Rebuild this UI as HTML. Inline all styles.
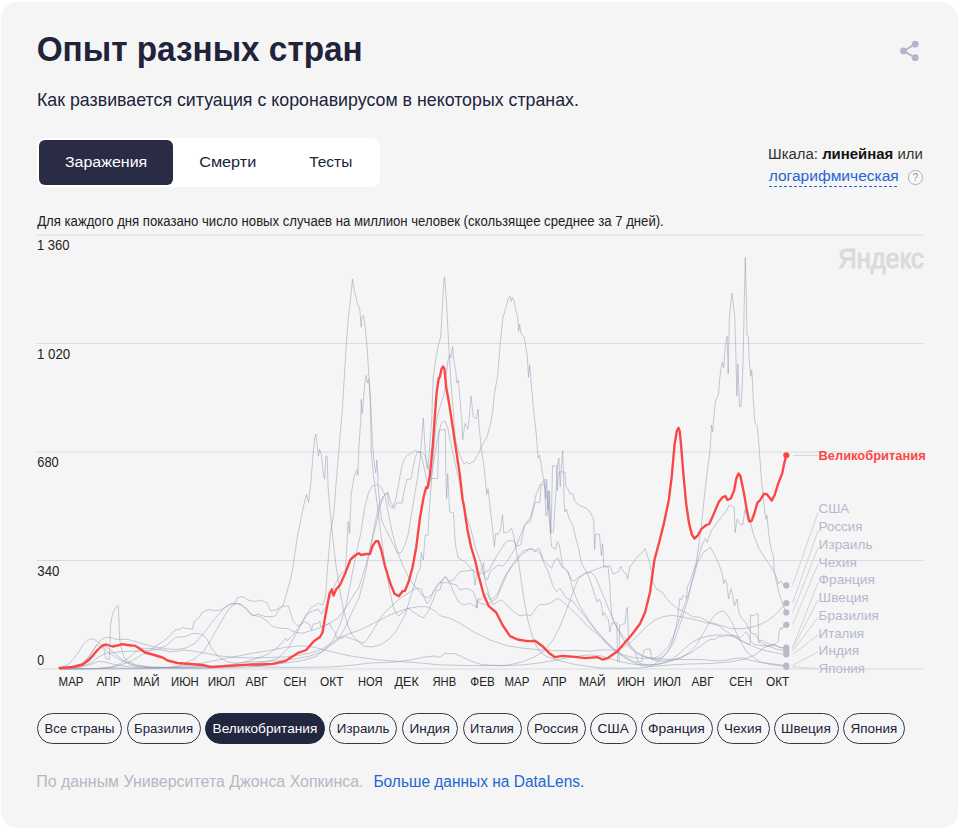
<!DOCTYPE html>
<html lang="ru"><head><meta charset="utf-8">
<style>
*{box-sizing:border-box;margin:0;padding:0}
html,body{width:961px;height:832px;background:#fff;overflow:hidden}
body{font-family:"Liberation Sans",sans-serif;color:#20233a;position:relative}
.card{position:absolute;left:1.1px;top:1.9px;width:956.7px;height:825.9px;background:#f5f5f5;border-radius:16.5px}
.abs{position:absolute}
.tabs{position:absolute;left:37.2px;top:137.9px;width:342.8px;height:49px;background:#fff;border-radius:8px}
.tabon{position:absolute;left:39px;top:139.9px;width:134px;height:45.1px;background:#2a2c46;border-radius:6px}
.pill{position:absolute;top:713px;height:30.5px;border:1px solid #34374f;border-radius:15.5px}
.pill.on{background:#23263f;border-color:#23263f}
.q{position:absolute;left:907.8px;top:169.9px;width:14.8px;height:14.8px;border:1px solid #a9adbd;border-radius:50%;background:#fafafa}
svg text{font-family:"Liberation Sans",sans-serif;white-space:pre}
</style></head><body>
<div class="card"></div>
<div class="tabs"></div><div class="tabon"></div>
<div class="q"></div>
<div class="pill" style="left:37.00px;width:85.00px"></div>
<div class="pill" style="left:126.50px;width:74.25px"></div>
<div class="pill on" style="left:205.00px;width:120.00px"></div>
<div class="pill" style="left:329.25px;width:68.00px"></div>
<div class="pill" style="left:402.00px;width:55.50px"></div>
<div class="pill" style="left:462.50px;width:59.00px"></div>
<div class="pill" style="left:526.50px;width:59.50px"></div>
<div class="pill" style="left:590.00px;width:46.50px"></div>
<div class="pill" style="left:640.50px;width:72.00px"></div>
<div class="pill" style="left:716.50px;width:53.00px"></div>
<div class="pill" style="left:773.50px;width:65.00px"></div>
<div class="pill" style="left:843.00px;width:62.00px"></div>
<svg class="abs" style="left:0;top:0" width="961" height="832" viewBox="0 0 961 832">
<g fill="#b1b6c8"><circle cx="915.2" cy="44.15" r="3.4"/><circle cx="903.5" cy="50.9" r="3.4"/><circle cx="915.2" cy="57.7" r="3.4"/></g><path d="M915.2 44.15 L903.5 50.9 L915.2 57.7" fill="none" stroke="#b1b6c8" stroke-width="1.8"/>
<g stroke="#d9dbe2" stroke-width="1">
<line x1="37" x2="923" y1="235" y2="235"/>
<line x1="37" x2="923" y1="343.5" y2="343.5"/>
<line x1="37" x2="923" y1="452" y2="452"/>
<line x1="37" x2="923" y1="560.5" y2="560.5"/>
<line x1="37" x2="923" y1="669" y2="669"/>
</g>
<text x="838.30" y="268.00" font-size="28" fill="#dadadd" textLength="85.50" lengthAdjust="spacingAndGlyphs" stroke="#dadadd" stroke-width="1.1" stroke-linejoin="round">Яндекс</text>
<g fill="none" stroke="#8f98b3" stroke-opacity="0.5" stroke-width="1" stroke-linejoin="round">
<path d="M60.0 668.8 L76.9 667.1 L84.1 663.5 L90.0 656.2 L95.8 646.0 L101.6 639.4 L106.0 637.5 L109.6 637.2 L116.2 639.4 L122.0 639.4 L127.8 639.4 L133.7 640.9 L142.4 643.8 L154.1 646.7 L165.7 648.9 L175.9 649.6 L185.0 648.3 L195.0 643.3 L205.0 631.6 L215.0 618.3 L225.0 607.5 L230.0 604.1 L235.0 603.3 L241.6 605.0 L246.6 608.3 L251.6 615.0 L259.9 616.6 L266.6 620.8 L271.6 625.8 L278.2 628.0 L288.2 628.6 L293.2 631.6 L301.5 633.3 L310.0 631.0 L321.0 627.5 L330.0 623.0 L338.0 618.0 L345.0 609.0 L352.0 598.0 L359.0 587.0 L366.0 565.0 L372.0 540.0 L376.0 525.0 L380.0 506.2 L383.8 496.5 L386.0 493.5 L387.5 492.5 L389.0 497.0 L391.0 503.0 L393.0 507.0 L396.1 498.1 L399.7 477.7 L402.1 465.7 L404.5 458.5 L407.5 455.5 L411.7 453.1 L415.3 450.0 L417.1 451.9 L419.5 451.9 L422.0 458.0 L425.0 472.0 L428.6 488.0 L431.0 478.0 L434.0 460.0 L437.0 442.0 L441.0 423.5 L444.8 420.6 L447.7 427.3 L450.6 442.7 L454.4 460.0 L458.3 477.3 L462.1 498.5 L466.9 517.7 L470.8 529.2 L475.6 548.5 L480.0 560.0 L483.6 573.3 L486.6 586.6 L490.0 598.3 L493.3 604.9 L497.4 601.6 L501.6 600.0 L506.6 604.9 L513.3 611.6 L520.0 615.8 L526.6 614.9 L530.7 615.8 L534.9 609.9 L539.9 604.1 L543.2 604.9 L549.9 603.3 L554.9 600.0 L558.2 598.3 L561.5 600.8 L566.5 604.9 L571.5 609.9 L578.2 615.8 L584.9 623.3 L589.9 628.3 L596.5 633.3 L600.0 636.6 L606.0 643.0 L612.0 648.5 L618.0 652.5 L625.0 655.5 L633.0 657.5 L641.6 658.3 L651.6 658.5 L658.3 656.6 L663.3 651.6 L668.2 646.6 L673.2 636.6 L678.2 623.3 L683.2 608.3 L688.2 595.0 L693.2 578.3 L696.5 566.6 L697.7 560.0 L701.5 546.2 L705.4 538.5 L707.3 542.3 L711.2 530.8 L716.9 523.1 L722.7 515.4 L726.5 510.6 L729.4 504.8 L734.2 507.7 L735.2 532.7 L737.1 519.2 L740.0 524.0 L742.9 525.0 L744.8 509.6 L747.7 519.2 L750.6 523.1 L753.5 534.6 L755.6 540.0 L758.9 548.4 L764.0 556.8 L769.0 563.6 L774.1 572.0 L776.6 577.0 L778.3 583.8 L780.8 581.2 L783.3 584.6 L786.2 585.5"/>
<path d="M60.0 669.0 L95.0 668.5 L110.4 667.1 L120.6 663.5 L130.8 656.2 L136.6 651.1 L142.4 648.9 L149.7 648.2 L157.0 649.2 L171.5 651.8 L185.0 650.0 L201.6 652.4 L218.3 655.7 L235.0 657.4 L251.6 657.9 L268.3 657.5 L285.0 657.0 L300.0 655.0 L310.0 653.0 L321.0 649.5 L330.0 644.0 L338.0 638.5 L348.0 634.0 L359.0 630.5 L370.0 625.0 L380.0 620.0 L390.0 615.0 L400.0 611.0 L410.0 608.0 L420.0 606.5 L428.0 607.0 L435.0 611.0 L440.0 615.8 L450.0 618.3 L460.0 623.3 L473.3 631.6 L490.0 639.9 L506.6 645.7 L523.3 648.2 L540.0 649.9 L556.6 650.7 L573.2 650.4 L589.9 651.2 L600.0 650.0 L618.3 650.0 L630.0 643.3 L638.3 634.9 L646.6 626.6 L654.9 620.0 L663.3 616.6 L671.6 615.3 L680.0 616.6 L688.2 618.3 L696.5 620.0 L704.9 622.5 L713.2 624.1 L721.5 625.8 L730.3 628.4 L740.4 628.9 L750.5 627.5 L758.9 625.0 L767.3 620.8 L774.1 615.8 L780.8 609.0 L786.2 603.1"/>
<path d="M60.0 668.8 L76.9 667.8 L88.5 662.0 L95.8 653.3 L100.2 647.4 L104.5 646.0 L108.9 648.9 L116.2 654.7 L123.5 660.6 L130.8 665.0 L139.5 667.1 L157.0 667.8 L176.0 667.1 L185.0 663.2 L195.0 658.3 L203.3 651.6 L210.0 641.6 L218.3 626.6 L225.0 615.0 L230.0 607.5 L235.0 604.1 L238.3 603.3 L241.6 605.0 L248.3 611.6 L253.3 615.8 L258.3 614.1 L264.9 616.6 L271.6 616.6 L275.7 615.8 L278.2 610.8 L283.2 605.0 L286.6 593.3 L289.0 585.0 L291.5 575.0 L292.5 570.0 L297.3 536.9 L301.2 517.7 L304.0 504.2 L306.5 494.6 L308.5 502.3 L310.8 483.1 L313.1 454.2 L314.6 438.8 L315.8 434.0 L317.5 448.5 L318.5 456.2 L319.6 449.4 L321.3 454.2 L323.3 473.5 L324.6 479.2 L325.8 456.2 L327.1 456.2 L328.1 486.9 L329.6 506.2 L331.9 529.2 L334.8 556.2 L336.7 570.0 L340.0 592.0 L344.0 612.0 L348.0 626.0 L352.0 635.0 L358.0 641.0 L363.7 646.0 L372.0 647.0 L380.0 645.0 L388.0 640.0 L395.6 632.0 L405.0 615.0 L412.7 590.0 L418.0 572.0 L420.4 568.0 L421.3 552.3 L423.3 560.0 L425.2 535.0 L428.1 535.0 L429.0 513.8 L431.0 486.9 L433.5 455.0 L436.5 420.0 L441.3 402.3 L444.2 394.6 L446.2 375.4 L448.1 360.0 L449.6 354.2 L451.0 358.1 L452.5 346.5 L453.8 360.0 L455.8 371.5 L456.9 383.1 L458.3 380.2 L459.6 394.6 L461.2 413.8 L461.9 420.0 L462.7 439.8 L465.0 423.5 L467.9 429.2 L469.5 415.0 L471.0 395.8 L473.3 416.9 L476.2 418.8 L478.1 409.2 L479.0 424.6 L481.3 448.5 L484.2 467.7 L486.7 494.6 L488.1 488.8 L490.4 510.0 L492.9 533.1 L494.4 546.5 L495.8 533.1 L497.7 535.0 L500.6 529.2 L502.5 514.8 L503.8 533.1 L507.3 532.1 L510.2 530.2 L511.5 528.3 L514.0 536.9 L516.9 554.2 L518.3 560.0 L521.6 583.3 L524.9 604.9 L528.2 621.6 L532.4 636.6 L536.6 646.6 L539.9 651.6 L546.6 656.6 L556.6 659.9 L573.2 664.1 L589.9 666.6 L600.0 667.9 L620.0 668.3 L640.0 668.0 L648.0 667.0 L653.3 664.9 L659.9 659.9 L666.6 653.3 L673.2 643.3 L678.2 629.9 L683.2 614.9 L688.2 598.3 L691.5 583.3 L694.8 570.0 L696.7 560.0 L701.5 525.0 L704.4 496.2 L707.3 471.2 L710.2 448.1 L711.5 425.0 L712.7 431.7 L714.0 415.4 L715.7 400.0 L718.5 394.6 L720.0 376.2 L722.2 362.2 L723.7 367.6 L725.4 345.9 L727.1 336.2 L728.2 374.1 L729.3 320.0 L730.8 302.7 L732.1 293.0 L733.4 304.9 L734.7 315.7 L735.8 352.4 L736.9 395.7 L737.9 364.3 L739.5 406.5 L741.0 406.5 L742.3 382.7 L743.4 348.1 L744.2 304.9 L745.3 257.3 L746.2 294.1 L747.0 335.1 L748.3 336.2 L749.2 361.1 L750.7 376.2 L751.8 369.7 L753.1 395.7 L754.6 419.9 L755.4 423.1 L757.3 426.9 L759.2 448.1 L761.2 476.9 L763.1 496.2 L765.0 513.5 L766.0 519.2 L766.9 515.4 L768.8 534.6 L770.8 548.1 L773.6 556.8 L774.1 570.3 L775.8 578.7 L778.3 590.5 L780.8 598.9 L783.3 605.7 L786.2 612.4"/>
<path d="M60.0 668.8 L80.0 667.5 L91.4 664.2 L98.7 661.3 L106.0 662.3 L116.2 664.9 L130.8 667.1 L160.0 667.5 L200.0 667.0 L230.0 666.0 L250.0 664.5 L265.0 662.0 L278.2 658.3 L288.2 648.3 L298.2 630.0 L304.9 616.6 L311.5 607.5 L318.2 603.3 L323.2 605.0 L325.7 595.0 L327.2 572.0 L330.4 533.1 L333.8 513.8 L335.8 486.9 L338.7 452.3 L340.6 429.2 L342.2 412.0 L344.4 375.4 L346.3 344.6 L348.3 317.7 L350.2 302.3 L352.5 279.2 L354.0 288.8 L356.9 301.3 L359.8 310.0 L361.2 327.3 L362.1 316.7 L363.7 315.4 L365.6 331.2 L367.5 352.3 L368.8 375.4 L370.4 398.5 L371.4 420.0 L372.6 444.0 L373.8 458.5 L375.0 468.1 L375.9 472.9 L376.8 460.3 L377.8 472.9 L378.0 484.9 L379.2 498.1 L380.4 510.1 L381.6 520.0 L383.8 525.4 L387.7 533.0 L393.5 544.6 L397.3 553.3 L401.2 552.3 L405.0 545.0 L408.0 535.0 L410.5 520.0 L414.1 498.1 L417.7 476.5 L420.1 459.7 L421.0 447.7 L422.2 432.0 L423.3 418.0 L424.5 440.0 L425.8 458.0 L427.1 468.8 L428.5 462.0 L430.0 442.0 L431.7 420.0 L433.1 379.2 L435.6 360.0 L438.5 344.6 L440.8 336.9 L442.3 308.1 L443.5 285.0 L444.4 276.9 L445.6 288.8 L447.1 313.8 L448.5 340.8 L449.6 360.0 L451.0 383.1 L452.9 406.2 L455.4 438.8 L459.2 454.2 L464.0 463.8 L466.9 461.9 L468.8 463.8 L473.7 461.9 L478.5 453.3 L482.3 444.6 L487.1 436.9 L491.0 421.5 L492.9 410.0 L494.2 394.6 L497.7 375.4 L500.0 346.5 L502.9 317.7 L505.8 308.1 L508.7 297.5 L510.0 296.2 L511.2 301.3 L512.5 297.5 L514.4 302.3 L516.3 311.9 L517.7 317.7 L518.7 331.2 L519.6 324.4 L521.2 334.0 L524.0 336.9 L526.0 348.5 L527.3 356.2 L528.5 377.3 L529.6 364.8 L531.2 383.1 L533.1 404.2 L534.6 420.0 L536.2 433.1 L538.1 458.1 L539.6 455.2 L541.9 469.6 L544.8 486.9 L547.7 502.3 L550.6 535.0 L551.5 546.5 L553.5 547.5 L555.4 549.4 L557.3 541.7 L559.2 544.6 L562.1 561.9 L562.4 566.6 L568.2 571.6 L573.2 590.0 L578.2 603.3 L583.2 611.6 L589.9 621.6 L594.8 628.3 L600.0 634.9 L606.0 642.0 L612.0 648.0 L618.0 653.0 L625.0 658.0 L632.0 662.0 L640.0 665.0 L650.0 666.5 L670.0 665.0 L690.0 664.0 L710.0 663.5 L730.0 662.0 L745.0 659.0 L755.0 655.0 L764.0 647.7 L770.7 645.2 L775.8 643.5 L778.3 641.0 L779.1 631.8 L780.8 627.5 L782.2 629.2 L784.2 625.0 L786.2 624.7"/>
<path d="M60.0 668.8 L76.9 666.4 L84.1 662.0 L90.0 654.7 L94.3 648.9 L96.5 645.3 L98.7 646.0 L101.6 647.4 L104.5 650.4 L105.3 657.6 L107.4 659.1 L109.2 659.8 L110.0 643.0 L110.4 625.6 L112.5 613.9 L115.5 607.4 L118.1 605.5 L118.8 616.9 L119.8 640.2 L121.3 647.4 L122.7 653.3 L124.9 659.1 L130.8 662.7 L136.6 665.0 L149.7 667.1 L171.5 667.5 L200.0 666.5 L230.0 665.0 L245.0 662.0 L259.9 657.4 L268.3 654.1 L276.6 648.3 L283.2 641.6 L285.7 638.3 L286.9 640.8 L291.6 636.6 L298.2 628.3 L303.2 620.8 L308.2 613.3 L313.2 610.8 L318.2 609.1 L321.5 614.1 L325.0 608.0 L330.0 598.0 L335.0 585.0 L340.0 575.0 L345.4 570.0 L348.3 521.5 L349.6 533.1 L351.2 494.6 L354.0 477.3 L356.9 469.6 L357.9 475.4 L358.8 448.5 L360.8 419.6 L361.2 399.4 L362.3 413.8 L364.6 385.0 L366.2 375.4 L367.5 383.1 L368.8 379.2 L370.2 398.0 L370.8 420.0 L371.2 450.0 L372.0 459.7 L373.2 472.9 L375.0 487.3 L376.2 496.9 L378.0 510.1 L379.2 520.0 L381.0 535.0 L383.8 555.0 L387.0 575.0 L390.0 592.0 L393.0 606.0 L395.6 613.0 L399.0 616.0 L403.0 612.0 L408.0 608.0 L413.0 612.0 L418.0 615.0 L423.0 618.0 L428.0 612.0 L433.0 600.0 L437.0 590.0 L440.0 590.0 L442.5 580.0 L445.8 576.6 L448.3 581.6 L453.3 580.0 L460.0 571.6 L466.6 570.8 L473.3 570.0 L475.0 585.0 L476.6 575.0 L481.6 570.0 L483.6 562.5 L484.6 576.6 L487.5 580.0 L490.0 571.6 L495.0 567.5 L498.3 565.0 L503.0 566.0 L508.0 560.0 L515.0 548.5 L524.6 525.4 L530.4 517.7 L536.2 494.6 L540.0 485.0 L542.9 482.1 L544.8 479.2 L545.4 498.5 L546.7 479.2 L548.1 510.0 L549.2 490.8 L550.0 517.7 L551.2 533.1 L553.5 531.2 L555.0 506.2 L556.3 486.9 L557.7 463.8 L558.8 458.1 L560.2 486.9 L561.2 467.7 L562.7 450.4 L563.5 471.5 L564.0 502.3 L565.0 511.9 L566.5 509.0 L568.8 517.7 L572.7 525.4 L576.5 540.8 L579.0 550.0 L581.5 563.3 L586.5 571.6 L590.0 580.0 L593.1 590.0 L595.1 596.1 L597.2 602.3 L599.2 599.2 L601.2 603.3 L602.8 615.5 L604.3 612.5 L606.3 616.6 L608.4 619.6 L609.9 631.9 L610.9 626.8 L612.0 622.7 L614.0 623.7 L616.6 625.8 L619.6 630.9 L622.7 636.0 L625.8 639.0 L628.8 644.1 L632.9 648.2 L637.0 652.3 L645.0 656.5 L653.0 659.5 L658.0 659.0 L663.3 656.6 L669.9 648.3 L673.2 638.3 L676.6 624.9 L678.2 613.3 L679.9 598.3 L681.6 600.0 L683.2 595.0 L686.6 598.3 L687.4 586.6 L689.9 581.6 L693.2 571.6 L696.5 563.3 L699.6 560.0 L703.5 551.9 L707.3 550.0 L710.2 547.1 L713.1 551.9 L716.0 558.0 L718.5 563.6 L721.9 572.0 L723.6 583.8 L725.3 579.6 L726.9 583.8 L728.6 598.9 L731.1 588.8 L732.8 595.6 L734.5 605.7 L737.0 598.9 L738.7 612.4 L741.2 617.4 L743.8 620.8 L746.3 623.3 L748.8 629.2 L752.2 633.4 L755.6 634.3 L758.9 641.0 L762.3 640.2 L765.7 642.7 L770.7 644.4 L775.8 645.2 L780.8 647.7 L786.2 647.7"/>
<path d="M60.0 668.8 L77.0 667.5 L90.0 663.5 L98.7 656.9 L106.0 653.3 L120.6 651.8 L135.0 651.1 L149.7 650.4 L157.0 649.6 L165.7 646.0 L175.9 637.2 L185.0 636.6 L193.3 633.3 L201.6 634.1 L206.6 638.3 L211.6 648.3 L218.3 656.6 L226.6 661.6 L235.0 663.2 L250.0 662.0 L265.0 661.5 L280.0 660.5 L295.0 659.0 L310.0 656.0 L321.0 652.0 L330.0 646.0 L338.0 640.0 L345.0 628.0 L352.0 612.0 L359.0 598.0 L365.0 575.0 L370.0 550.0 L375.6 520.0 L379.2 504.1 L382.8 496.9 L385.8 493.9 L387.9 492.1 L388.2 501.7 L389.4 505.9 L391.9 507.7 L394.3 508.3 L396.7 502.9 L402.1 502.9 L403.9 492.1 L406.9 479.5 L411.1 478.9 L412.9 468.1 L415.3 457.3 L417.1 452.5 L419.5 451.9 L422.0 452.5 L425.0 456.0 L428.0 465.0 L430.4 478.5 L437.7 478.5 L438.3 456.0 L438.9 430.4 L445.3 429.4 L445.8 471.5 L446.7 498.5 L447.7 473.5 L448.7 492.7 L449.6 511.9 L453.5 512.9 L454.4 529.2 L455.4 544.6 L458.3 558.1 L465.0 561.9 L472.7 570.0 L478.0 574.0 L484.0 573.0 L489.0 570.0 L497.7 554.2 L505.4 542.7 L507.3 540.8 L514.0 540.8 L516.0 546.5 L520.8 544.6 L524.6 525.4 L527.5 522.5 L530.4 521.5 L532.3 513.8 L535.2 502.3 L540.0 502.3 L541.0 485.0 L544.8 484.0 L545.8 515.8 L547.3 514.8 L547.7 490.8 L549.6 494.6 L550.6 533.1 L551.5 513.8 L552.5 465.8 L556.3 465.8 L557.3 490.8 L558.3 473.5 L561.2 471.5 L565.0 472.5 L566.0 486.9 L567.9 488.8 L569.8 493.7 L572.7 493.7 L574.6 500.4 L577.5 504.2 L581.3 506.2 L586.2 508.1 L590.0 511.9 L592.9 517.7 L593.7 520.8 L594.6 549.6 L595.6 534.2 L599.4 534.2 L601.3 555.4 L602.7 543.8 L603.8 566.9 L608.1 566.9 L610.0 586.2 L610.4 600.2 L612.0 615.5 L614.0 622.7 L616.8 622.7 L617.1 639.0 L617.6 661.5 L619.1 661.5 L619.6 624.7 L620.6 625.8 L622.7 624.2 L625.2 623.7 L626.3 610.4 L627.3 607.4 L628.0 625.8 L628.6 641.1 L630.9 647.2 L634.9 651.3 L638.0 661.5 L642.1 661.5 L642.6 655.4 L644.1 650.3 L646.2 649.2 L650.3 649.2 L651.3 655.4 L651.8 659.5 L658.0 661.0 L665.0 661.0 L673.2 659.9 L683.2 656.6 L693.2 651.6 L696.5 648.3 L699.9 646.6 L705.0 642.7 L710.1 639.3 L715.2 639.3 L718.5 636.8 L725.3 636.0 L733.7 635.1 L740.4 637.6 L743.8 634.3 L746.3 631.8 L748.0 634.3 L750.5 641.0 L753.9 644.4 L758.9 645.2 L767.3 646.1 L774.1 645.2 L780.8 647.7 L786.2 648.6"/>
<path d="M60.0 669.0 L100.0 668.5 L110.4 667.8 L120.6 664.9 L130.8 661.3 L139.5 656.2 L148.2 651.1 L157.0 645.3 L162.8 641.6 L168.6 637.2 L171.5 634.0 L175.9 629.2 L178.8 630.0 L183.2 627.3 L185.0 628.3 L192.5 629.1 L194.2 621.6 L200.0 616.6 L201.6 613.3 L205.0 610.8 L210.0 609.6 L215.0 610.8 L220.0 610.0 L225.0 607.5 L230.0 604.1 L235.0 603.3 L237.4 597.5 L242.4 596.6 L248.3 600.0 L255.0 601.6 L261.6 600.0 L267.4 603.3 L270.7 610.8 L275.7 610.0 L281.6 606.6 L288.2 605.8 L290.7 613.3 L293.2 621.6 L297.4 625.8 L299.9 625.0 L304.9 621.6 L309.9 625.0 L311.5 630.0 L313.2 624.1 L318.2 623.3 L319.9 620.8 L320.7 626.6 L324.9 625.8 L329.9 623.3 L331.5 628.3 L334.9 631.6 L336.5 637.4 L341.5 638.3 L345.0 636.6 L350.0 638.0 L355.0 640.0 L360.0 642.0 L364.0 643.0 L368.0 638.0 L372.0 632.0 L378.0 622.0 L385.0 612.0 L392.0 606.0 L398.0 600.0 L404.0 596.0 L410.0 592.0 L416.0 588.0 L421.0 589.0 L424.0 597.0 L427.0 604.0 L430.0 600.0 L434.0 590.0 L438.0 584.0 L440.0 581.6 L442.5 583.3 L446.7 582.5 L450.0 583.3 L456.6 585.0 L460.0 590.0 L466.6 588.3 L473.3 591.6 L475.8 598.3 L477.0 608.3 L478.0 598.3 L480.0 600.0 L485.0 595.0 L487.5 593.3 L490.0 600.0 L495.0 596.6 L497.4 594.1 L501.6 583.3 L506.6 573.3 L511.6 566.6 L515.0 563.3 L520.0 556.6 L523.3 553.3 L528.2 550.0 L531.0 549.0 L535.0 552.0 L538.0 548.0 L540.0 550.0 L543.2 560.0 L548.2 565.0 L551.5 568.3 L554.9 560.0 L558.2 558.3 L561.5 566.6 L564.9 568.3 L568.2 573.3 L571.5 580.0 L574.9 580.8 L578.2 577.0 L580.0 576.6 L585.0 573.3 L590.0 571.6 L596.6 569.1 L603.3 566.6 L610.0 565.8 L613.3 574.1 L618.3 571.6 L620.8 566.6 L623.3 571.6 L625.8 573.3 L627.5 579.1 L630.0 566.6 L633.3 562.5 L636.6 557.5 L641.6 553.3 L644.1 550.0 L645.2 548.5 L646.6 553.3 L649.9 563.3 L653.3 583.3 L656.6 589.1 L661.6 591.6 L666.6 598.3 L670.7 603.3 L674.9 606.6 L678.2 609.1 L685.0 612.0 L692.4 616.6 L700.0 617.4 L710.1 622.5 L716.8 624.2 L725.3 630.9 L733.7 636.0 L742.1 641.0 L748.8 644.4 L750.2 644.4 L750.5 614.9 L753.9 615.8 L755.6 614.1 L758.1 614.1 L758.6 642.7 L760.6 641.9 L764.0 644.4 L770.7 646.9 L777.4 649.4 L786.2 651.1"/>
<path d="M59.4 668.6 L69.6 663.5 L76.9 654.7 L82.7 645.3 L87.0 640.5 L90.7 638.7 L94.3 639.4 L98.7 642.3 L103.0 647.4 L108.9 652.5 L116.2 657.6 L124.9 662.0 L136.6 665.7 L149.7 667.1 L171.5 667.8 L220.0 668.0 L250.0 667.0 L270.0 665.0 L285.0 663.0 L300.0 661.0 L315.0 657.0 L325.0 650.0 L333.0 640.0 L340.0 625.0 L346.0 605.0 L350.2 585.0 L353.0 570.0 L357.0 550.0 L360.8 533.1 L364.6 508.1 L368.5 492.7 L372.3 486.0 L377.1 484.6 L381.0 486.9 L384.8 494.6 L387.7 510.0 L391.5 529.2 L395.4 544.6 L399.2 556.2 L403.0 566.0 L408.0 576.0 L413.0 584.0 L418.0 590.0 L423.0 596.0 L428.0 598.0 L433.0 593.0 L437.0 587.0 L440.0 583.3 L441.7 580.8 L445.0 576.6 L447.5 579.1 L450.0 583.3 L453.3 591.6 L458.3 601.6 L463.3 604.9 L470.0 603.3 L476.6 607.4 L477.5 600.0 L480.0 603.3 L486.6 604.9 L491.6 601.6 L496.6 598.3 L501.6 586.6 L506.6 575.0 L511.6 565.8 L516.9 558.1 L522.7 551.3 L530.4 548.5 L536.2 550.4 L540.0 553.0 L544.0 563.3 L548.2 571.6 L553.2 586.6 L556.6 591.6 L559.9 588.3 L566.5 598.3 L573.2 601.6 L578.2 608.3 L584.9 616.6 L589.9 623.3 L596.5 631.6 L600.0 634.9 L606.0 641.0 L612.0 647.0 L618.0 652.0 L625.0 657.0 L633.0 661.0 L642.0 664.0 L652.0 665.2 L660.0 664.0 L666.6 661.6 L673.2 658.3 L679.9 653.3 L686.6 646.6 L693.2 641.6 L699.9 638.3 L708.4 636.0 L716.8 635.1 L726.9 634.8 L733.7 636.8 L742.1 641.0 L750.5 645.2 L758.9 648.6 L767.3 651.1 L775.8 652.8 L786.2 654.5"/>
<path d="M60.0 669.0 L140.0 668.8 L160.0 668.0 L185.0 665.7 L201.6 663.2 L218.3 659.9 L235.0 656.6 L251.6 653.3 L268.3 650.8 L284.9 647.4 L301.5 645.8 L314.9 647.4 L328.2 650.8 L345.0 654.9 L360.0 657.5 L380.0 660.0 L400.0 661.5 L420.0 663.0 L440.0 664.9 L473.3 665.7 L506.6 665.4 L523.3 661.6 L533.2 657.4 L543.2 651.6 L553.2 639.9 L559.9 626.6 L566.5 609.9 L573.2 591.6 L578.2 579.1 L584.9 573.3 L591.5 572.5 L596.0 578.0 L600.0 588.0 L605.0 600.0 L610.0 612.0 L615.0 624.0 L620.0 634.0 L625.0 642.0 L630.0 648.0 L636.0 653.0 L643.0 656.5 L655.0 658.5 L670.0 659.5 L700.0 659.5 L716.8 660.9 L725.3 660.4 L733.7 658.7 L742.1 657.8 L750.5 660.4 L758.9 662.1 L770.7 663.7 L786.2 665.4"/>
<path d="M60.0 669.0 L100.0 668.5 L112.0 667.6 L125.0 668.3 L200.0 668.5 L225.0 667.0 L245.0 665.6 L265.0 667.0 L290.0 667.5 L330.0 667.0 L350.0 665.5 L370.0 663.0 L395.6 662.0 L410.0 660.0 L425.0 657.0 L435.0 656.0 L440.0 657.4 L445.0 653.2 L450.0 653.6 L455.0 653.6 L461.6 656.6 L470.0 660.7 L481.6 664.6 L498.3 665.7 L523.3 664.9 L540.0 662.9 L556.6 659.9 L569.9 657.4 L581.5 655.7 L589.9 654.9 L600.0 655.7 L610.0 658.5 L620.0 661.5 L632.0 664.0 L642.0 665.0 L655.0 664.5 L668.0 662.0 L679.9 658.3 L688.2 653.3 L696.5 644.9 L703.2 633.3 L709.9 621.6 L714.9 614.9 L719.9 611.6 L723.2 611.3 L726.9 614.1 L732.0 622.5 L737.0 634.3 L742.1 644.4 L747.1 652.0 L753.9 657.8 L760.6 662.1 L770.7 664.6 L786.2 666.6"/>
</g>
<g stroke="#d3d4da" stroke-width="1">
<line x1="792.5" y1="585.4" x2="818" y2="512.5"/>
<line x1="792.5" y1="603.2" x2="818" y2="530.8"/>
<line x1="792.5" y1="612.4" x2="818" y2="548.0"/>
<line x1="792.5" y1="624.8" x2="818" y2="564.2"/>
<line x1="792.5" y1="647.7" x2="818" y2="582.5"/>
<line x1="792.5" y1="648.8" x2="818" y2="600.0"/>
<line x1="792.5" y1="651.3" x2="818" y2="617.5"/>
<line x1="792.5" y1="654.5" x2="818" y2="635.0"/>
<line x1="792.5" y1="665.6" x2="818" y2="651.7"/>
<line x1="792.5" y1="666.8" x2="818" y2="668.7"/>
<line x1="793" y1="455.4" x2="818" y2="455.4"/>
</g>
<g fill="#b7bbc9">
<circle cx="786.3" cy="585.4" r="3.1"/>
<circle cx="786.3" cy="603.2" r="3.1"/>
<circle cx="786.3" cy="612.4" r="3.1"/>
<circle cx="786.3" cy="624.8" r="3.1"/>
<circle cx="786.3" cy="647.7" r="3.1"/>
<circle cx="786.3" cy="648.8" r="3.1"/>
<circle cx="786.3" cy="651.3" r="3.1"/>
<circle cx="786.3" cy="654.5" r="3.1"/>
<circle cx="786.3" cy="665.6" r="3.1"/>
<circle cx="786.3" cy="666.8" r="3.1"/>
</g>
<path d="M59.5 668.0 L72.5 667.0 L82.5 664.5 L90.0 658.8 L97.5 650.0 L102.5 645.5 L106.2 644.5 L112.5 646.5 L117.5 645.5 L122.5 644.2 L127.5 645.0 L135.0 645.8 L140.0 648.8 L145.0 652.5 L152.5 654.5 L162.5 657.5 L167.5 660.5 L177.5 663.0 L190.0 664.0 L202.5 665.0 L210.0 666.8 L215.0 666.8 L227.5 665.8 L240.0 665.2 L252.5 664.5 L260.0 664.5 L272.5 663.8 L285.0 661.2 L297.5 653.2 L306.2 650.0 L313.8 641.2 L320.0 637.0 L322.5 632.5 L325.5 615.0 L329.5 593.8 L331.8 589.2 L333.5 595.5 L336.2 589.2 L340.0 585.0 L345.0 573.8 L350.5 559.5 L355.0 555.5 L358.8 553.2 L361.2 555.0 L366.2 554.0 L370.0 554.0 L372.5 546.2 L375.8 541.2 L378.2 541.2 L381.2 550.0 L385.0 566.2 L390.0 582.5 L394.5 593.8 L398.8 596.2 L402.5 591.2 L405.0 590.8 L408.8 581.2 L412.5 567.5 L416.2 547.5 L420.0 517.5 L423.8 496.2 L426.2 487.1 L427.5 488.0 L430.0 474.6 L432.9 443.8 L434.8 416.9 L436.7 391.9 L438.7 378.5 L440.0 376.5 L441.5 368.8 L443.1 366.5 L444.4 368.8 L446.3 388.0 L448.3 398.7 L451.2 416.9 L454.0 436.2 L456.9 455.4 L459.8 474.6 L462.7 500.0 L463.8 505.0 L467.5 530.0 L471.2 547.5 L475.0 560.0 L478.8 576.2 L483.8 595.0 L488.8 606.2 L496.2 612.5 L502.5 625.0 L510.0 636.2 L517.5 639.5 L527.5 641.2 L535.0 640.8 L542.5 646.2 L550.0 653.8 L555.0 657.2 L562.5 655.8 L575.0 656.8 L585.0 658.2 L597.5 657.2 L602.5 659.5 L607.5 658.2 L617.5 651.2 L625.0 642.5 L632.5 633.8 L640.0 623.8 L645.0 612.5 L650.0 592.5 L654.4 560.0 L659.2 542.3 L664.0 523.1 L668.8 500.0 L671.7 476.9 L674.6 444.2 L676.9 430.8 L678.5 427.9 L679.8 431.7 L681.3 448.1 L683.3 473.1 L686.2 503.8 L689.0 523.1 L691.9 534.6 L694.4 538.5 L697.7 535.6 L701.5 528.8 L706.3 525.0 L709.2 524.0 L713.1 515.4 L718.8 501.9 L722.7 497.1 L725.6 496.2 L727.5 500.0 L730.8 498.5 L734.2 490.4 L736.2 478.8 L738.5 473.5 L740.4 476.0 L743.8 492.3 L746.7 509.6 L749.2 521.2 L751.5 521.2 L754.4 513.5 L757.3 502.9 L760.2 500.0 L764.0 493.8 L766.9 494.2 L771.7 500.6 L774.6 495.2 L778.5 482.7 L782.3 473.1 L784.2 463.5 L786.2 455.4" fill="none" stroke="#fb4646" stroke-width="2.35" stroke-linejoin="round" stroke-linecap="round"/>
<circle cx="786.3" cy="455.3" r="3.05" fill="#fb4646"/>
<text x="36.70" y="60.80" font-size="35.5" fill="#20233a" font-weight="bold" textLength="326.00" lengthAdjust="spacingAndGlyphs">Опыт разных стран</text>
<text x="37.00" y="105.90" font-size="18.4" fill="#20233a" textLength="541.90" lengthAdjust="spacingAndGlyphs">Как развивается ситуация с коронавирусом в некоторых странах.</text>
<text x="64.90" y="167.00" font-size="15.5" fill="#fff" textLength="82.40" lengthAdjust="spacingAndGlyphs">Заражения</text>
<text x="199.20" y="167.00" font-size="15.5" fill="#20233a" textLength="57.10" lengthAdjust="spacingAndGlyphs">Смерти</text>
<text x="309.20" y="167.00" font-size="15.5" fill="#20233a" textLength="43.10" lengthAdjust="spacingAndGlyphs">Тесты</text>
<text x="768" y="158.5" font-size="15.3" fill="#333" textLength="154.8" lengthAdjust="spacingAndGlyphs">Шкала: <tspan font-weight="bold" fill="#111">линейная</tspan> или</text>
<text x="768.70" y="180.50" font-size="15.3" fill="#2466d1" textLength="130.10" lengthAdjust="spacingAndGlyphs">логарифмическая</text>
<line x1="769" x2="898.5" y1="186.5" y2="186.5" stroke="#2466d1" stroke-width="1" stroke-dasharray="3 2" shape-rendering="crispEdges"/>
<text x="912.40" y="181.20" font-size="10.5" fill="#8e909a" textLength="5.80" lengthAdjust="spacingAndGlyphs">?</text>
<text x="37.20" y="226.30" font-size="13.8" fill="#222" textLength="626.60" lengthAdjust="spacingAndGlyphs">Для каждого дня показано число новых случаев на миллион человек (скользящее среднее за 7 дней).</text>
<text x="36.90" y="250.00" font-size="14.5" fill="#222" textLength="32.50" lengthAdjust="spacingAndGlyphs">1 360</text>
<text x="36.90" y="358.50" font-size="14.5" fill="#222" textLength="33.30" lengthAdjust="spacingAndGlyphs">1 020</text>
<text x="37.30" y="467.00" font-size="14.5" fill="#222" textLength="21.40" lengthAdjust="spacingAndGlyphs">680</text>
<text x="37.30" y="576.30" font-size="14.5" fill="#222" textLength="22.10" lengthAdjust="spacingAndGlyphs">340</text>
<text x="37.30" y="664.70" font-size="14.5" fill="#222" textLength="6.90" lengthAdjust="spacingAndGlyphs">0</text>
<text x="58.60" y="685.80" font-size="13" fill="#222" textLength="24.90" lengthAdjust="spacingAndGlyphs">МАР</text>
<text x="96.48" y="685.80" font-size="13" fill="#222" textLength="24.10" lengthAdjust="spacingAndGlyphs">АПР</text>
<text x="133.13" y="685.80" font-size="13" fill="#222" textLength="26.60" lengthAdjust="spacingAndGlyphs">МАЙ</text>
<text x="171.01" y="685.80" font-size="13" fill="#222" textLength="27.80" lengthAdjust="spacingAndGlyphs">ИЮН</text>
<text x="207.66" y="685.80" font-size="13" fill="#222" textLength="27.40" lengthAdjust="spacingAndGlyphs">ИЮЛ</text>
<text x="245.54" y="685.80" font-size="13" fill="#222" textLength="22.10" lengthAdjust="spacingAndGlyphs">АВГ</text>
<text x="283.41" y="685.80" font-size="13" fill="#222" textLength="22.90" lengthAdjust="spacingAndGlyphs">СЕН</text>
<text x="320.07" y="685.80" font-size="13" fill="#222" textLength="23.30" lengthAdjust="spacingAndGlyphs">ОКТ</text>
<text x="357.94" y="685.80" font-size="13" fill="#222" textLength="24.50" lengthAdjust="spacingAndGlyphs">НОЯ</text>
<text x="394.60" y="685.80" font-size="13" fill="#222" textLength="24.10" lengthAdjust="spacingAndGlyphs">ДЕК</text>
<text x="432.47" y="685.80" font-size="13" fill="#222" textLength="23.70" lengthAdjust="spacingAndGlyphs">ЯНВ</text>
<text x="470.35" y="685.80" font-size="13" fill="#222" textLength="24.50" lengthAdjust="spacingAndGlyphs">ФЕВ</text>
<text x="504.56" y="685.80" font-size="13" fill="#222" textLength="24.90" lengthAdjust="spacingAndGlyphs">МАР</text>
<text x="542.43" y="685.80" font-size="13" fill="#222" textLength="24.10" lengthAdjust="spacingAndGlyphs">АПР</text>
<text x="579.09" y="685.80" font-size="13" fill="#222" textLength="26.60" lengthAdjust="spacingAndGlyphs">МАЙ</text>
<text x="616.96" y="685.80" font-size="13" fill="#222" textLength="27.80" lengthAdjust="spacingAndGlyphs">ИЮН</text>
<text x="653.62" y="685.80" font-size="13" fill="#222" textLength="27.40" lengthAdjust="spacingAndGlyphs">ИЮЛ</text>
<text x="691.49" y="685.80" font-size="13" fill="#222" textLength="22.10" lengthAdjust="spacingAndGlyphs">АВГ</text>
<text x="729.37" y="685.80" font-size="13" fill="#222" textLength="22.90" lengthAdjust="spacingAndGlyphs">СЕН</text>
<text x="766.02" y="685.80" font-size="13" fill="#222" textLength="23.30" lengthAdjust="spacingAndGlyphs">ОКТ</text>
<text x="818.60" y="513.30" font-size="13.5" fill="#b4b9ca" textLength="30.50" lengthAdjust="spacingAndGlyphs">США</text>
<text x="818.60" y="530.80" font-size="13.5" fill="#b4b9ca" textLength="43.90" lengthAdjust="spacingAndGlyphs">Россия</text>
<text x="818.60" y="548.60" font-size="13.5" fill="#b4b9ca" textLength="53.90" lengthAdjust="spacingAndGlyphs">Израиль</text>
<text x="818.60" y="566.70" font-size="13.5" fill="#b4b9ca" textLength="38.30" lengthAdjust="spacingAndGlyphs">Чехия</text>
<text x="818.60" y="584.20" font-size="13.5" fill="#b4b9ca" textLength="56.30" lengthAdjust="spacingAndGlyphs">Франция</text>
<text x="818.60" y="602.00" font-size="13.5" fill="#b4b9ca" textLength="50.20" lengthAdjust="spacingAndGlyphs">Швеция</text>
<text x="818.60" y="619.50" font-size="13.5" fill="#b4b9ca" textLength="60.20" lengthAdjust="spacingAndGlyphs">Бразилия</text>
<text x="818.60" y="637.50" font-size="13.5" fill="#b4b9ca" textLength="45.50" lengthAdjust="spacingAndGlyphs">Италия</text>
<text x="818.60" y="655.00" font-size="13.5" fill="#b4b9ca" textLength="40.50" lengthAdjust="spacingAndGlyphs">Индия</text>
<text x="818.60" y="673.00" font-size="13.5" fill="#b4b9ca" textLength="46.40" lengthAdjust="spacingAndGlyphs">Япония</text>
<text x="818.50" y="460.00" font-size="13" fill="#fb4646" font-weight="bold" textLength="107.20" lengthAdjust="spacingAndGlyphs">Великобритания</text>
<text x="44.60" y="733.00" font-size="13.3" fill="#20233a" textLength="69.70" lengthAdjust="spacingAndGlyphs">Все страны</text>
<text x="134.10" y="733.00" font-size="13.3" fill="#20233a" textLength="58.95" lengthAdjust="spacingAndGlyphs">Бразилия</text>
<text x="212.60" y="733.00" font-size="13.3" fill="#fff" textLength="104.70" lengthAdjust="spacingAndGlyphs">Великобритания</text>
<text x="336.85" y="733.00" font-size="13.3" fill="#20233a" textLength="52.70" lengthAdjust="spacingAndGlyphs">Израиль</text>
<text x="409.60" y="733.00" font-size="13.3" fill="#20233a" textLength="40.20" lengthAdjust="spacingAndGlyphs">Индия</text>
<text x="470.10" y="733.00" font-size="13.3" fill="#20233a" textLength="43.70" lengthAdjust="spacingAndGlyphs">Италия</text>
<text x="534.10" y="733.00" font-size="13.3" fill="#20233a" textLength="44.20" lengthAdjust="spacingAndGlyphs">Россия</text>
<text x="597.60" y="733.00" font-size="13.3" fill="#20233a" textLength="31.20" lengthAdjust="spacingAndGlyphs">США</text>
<text x="648.10" y="733.00" font-size="13.3" fill="#20233a" textLength="56.70" lengthAdjust="spacingAndGlyphs">Франция</text>
<text x="724.10" y="733.00" font-size="13.3" fill="#20233a" textLength="37.70" lengthAdjust="spacingAndGlyphs">Чехия</text>
<text x="781.10" y="733.00" font-size="13.3" fill="#20233a" textLength="49.70" lengthAdjust="spacingAndGlyphs">Швеция</text>
<text x="850.60" y="733.00" font-size="13.3" fill="#20233a" textLength="46.70" lengthAdjust="spacingAndGlyphs">Япония</text>
<text x="36.20" y="786.80" font-size="15.8" fill="#b4b8c6" textLength="327.30" lengthAdjust="spacingAndGlyphs">По данным Университета Джонса Хопкинса.</text>
<text x="373.40" y="786.80" font-size="15.8" fill="#2466d1" textLength="211.00" lengthAdjust="spacingAndGlyphs">Больше данных на DataLens.</text>
</svg>
</body></html>
